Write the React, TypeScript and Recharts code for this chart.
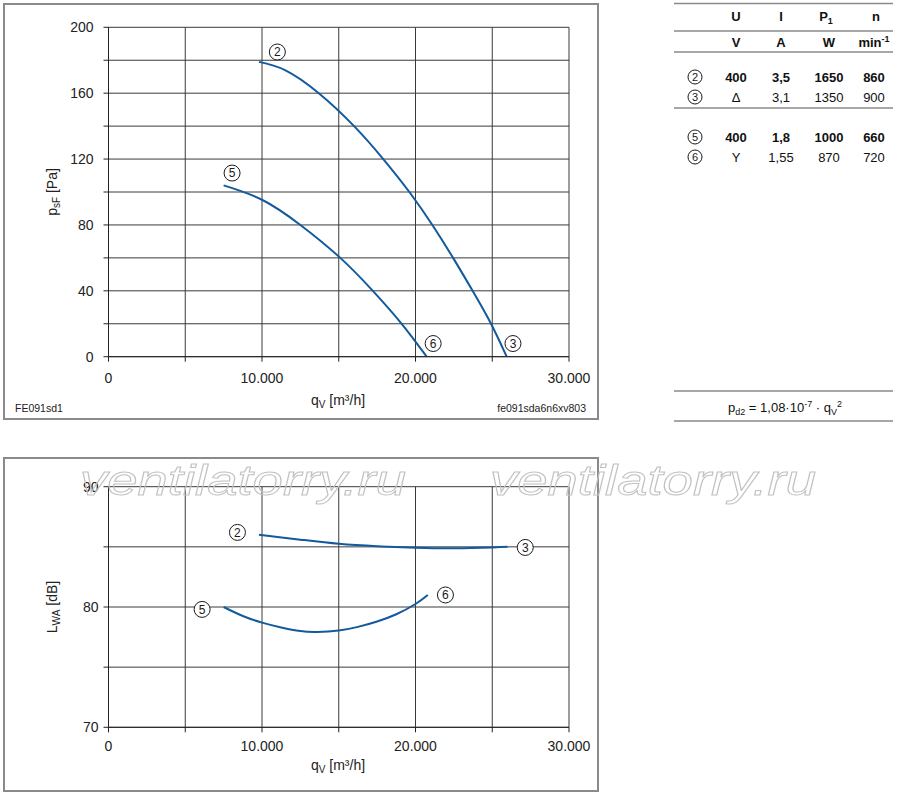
import { LineChart, Line, XAxis, YAxis, CartesianGrid, ReferenceDot } from "recharts";

const FONT = "'Liberation Sans', Arial, Helvetica, sans-serif";
const BLUE = "#135a9c";
const GRID = "#3a3a3a";

// axis ticks
const QV_TICKS = [0, 5000, 10000, 15000, 20000, 25000, 30000];
const PSF_TICKS = [0, 20, 40, 60, 80, 100, 120, 140, 160, 180, 200];
const LWA_TICKS = [70, 75, 80, 85, 90];

// static pressure, delta connection (2 -> 3)
const Q_DELTA = [9800, 11500, 13700, 16000, 17900, 19600, 21100, 22450, 23720, 24920, 25940];
const PSF_DELTA = [179, 174, 160, 140, 120, 100, 80, 60, 40, 20, 0];
// static pressure, star connection (5 -> 6)
const Q_STAR = [7500, 10000, 12500, 15100, 17220, 19100, 20730];
const PSF_STAR = [104, 95.3, 80, 60, 40, 20, 0];

// sound power, delta (2 -> 3)
const Q_DELTA_L = [9800, 12500, 15000, 17500, 20000, 22500, 25000, 26000];
const LWA_DELTA = [86.0, 85.6, 85.25, 85.05, 84.93, 84.88, 84.95, 85.0];
// sound power, star (5 -> 6)
const Q_STAR_L = [7500, 8750, 10000, 11250, 12500, 13600, 15000, 16250, 17500, 18750, 20000, 20800];
const LWA_STAR = [80.0, 79.25, 78.7, 78.3, 78.0, 77.93, 78.05, 78.35, 78.8, 79.4, 80.25, 81.0];

// circled operating point markers: label, qV, value
const PSF_MARKS: [string, number, number][] = [
    ["2", 11000, 185],
    ["5", 8050, 111.5],
    ["6", 21150, 8],
    ["3", 26350, 8],
];
const LWA_MARKS: [string, number, number][] = [
    ["2", 8400, 86.2],
    ["5", 6100, 79.8],
    ["6", 21950, 81.0],
    ["3", 27150, 84.95],
];

// data table on the right
const TABLE_COLS = [736, 781, 829, 874];
const TABLE_ROWS = [
    { id: "2", y: 77, bold: true, cells: ["400", "3,5", "1650", "860"] },
    { id: "3", y: 97, bold: false, cells: ["\u0394", "3,1", "1350", "900"] },
    { id: "5", y: 137, bold: true, cells: ["400", "1,8", "1000", "660"] },
    { id: "6", y: 157, bold: false, cells: ["Y", "1,55", "870", "720"] },
];

const zip = (q: number[], v: number[]) => q.map((x, i) => ({ q: x, v: v[i] }));

const fmtQ = (v: number) => (v % 10000 !== 0 ? "" : v === 0 ? "0" : `${v / 1000}.000`);

const circled = (n: string, r = 8, fs = 12) => (props: any) => {
    const { cx, cy } = props;
    return (
        <g>
            <circle cx={cx} cy={cy} r={r} fill="#fff" stroke="#1a1a1a" strokeWidth={1} />
            <text x={cx} y={cy + fs * 0.36} textAnchor="middle" fontSize={fs} fontFamily={FONT} fill="#1a1a1a">
                {n}
            </text>
        </g>
    );
};

const Marker = ({ n, x, y }: { n: string; x: number; y: number }) => {
    const c = circled(n, 7, 11);
    return c({ cx: x, cy: y });
};

const tickStyle = { fontSize: 14, fill: "#222", fontFamily: FONT };

function PressureChart() {
    return (
        <LineChart width={600} height={420} margin={{ top: 27.3, right: 31, bottom: 33.3, left: 48.5 }}>
            <CartesianGrid stroke={GRID} strokeWidth={1} />
            <XAxis
                type="number"
                dataKey="q"
                domain={[0, 30000]}
                ticks={QV_TICKS}
                interval={0}
                tickFormatter={fmtQ}
                tickSize={5}
                tickMargin={11.5}
                height={30}
                stroke="#222"
                tick={tickStyle}
                allowDataOverflow
            />
            <YAxis
                type="number"
                domain={[0, 200]}
                ticks={PSF_TICKS}
                interval={0}
                tickFormatter={(v: number) => (v % 40 === 0 ? String(v) : "")}
                tickSize={5}
                tickMargin={10}
                width={60}
                stroke="#222"
                tick={tickStyle}
            />
            <Line data={zip(Q_DELTA, PSF_DELTA)} dataKey="v" type="natural" stroke={BLUE} strokeWidth={2} dot={false} isAnimationActive={false} />
            <Line data={zip(Q_STAR, PSF_STAR)} dataKey="v" type="natural" stroke={BLUE} strokeWidth={2} dot={false} isAnimationActive={false} />
            {PSF_MARKS.map(([n, q, v]) => (
                <ReferenceDot key={n} x={q} y={v} r={8} shape={circled(n)} ifOverflow="visible" />
            ))}
        </LineChart>
    );
}

function SoundChart() {
    return (
        <LineChart width={600} height={320} margin={{ top: 31.7, right: 31, bottom: 17.7, left: 48.5 }}>
            <CartesianGrid stroke={GRID} strokeWidth={1} />
            <XAxis
                type="number"
                dataKey="q"
                domain={[0, 30000]}
                ticks={QV_TICKS}
                interval={0}
                tickFormatter={fmtQ}
                tickSize={5}
                tickMargin={8.5}
                height={30}
                stroke="#222"
                tick={tickStyle}
                allowDataOverflow
            />
            <YAxis
                type="number"
                domain={[70, 90]}
                ticks={LWA_TICKS}
                interval={0}
                tickFormatter={(v: number) => (v % 10 === 0 ? String(v) : "")}
                tickSize={5}
                tickMargin={5}
                width={60}
                stroke="#222"
                tick={tickStyle}
            />
            <Line data={zip(Q_DELTA_L, LWA_DELTA)} dataKey="v" type="natural" stroke={BLUE} strokeWidth={2} dot={false} isAnimationActive={false} />
            <Line data={zip(Q_STAR_L, LWA_STAR)} dataKey="v" type="natural" stroke={BLUE} strokeWidth={2} dot={false} isAnimationActive={false} />
            {LWA_MARKS.map(([n, q, v]) => (
                <ReferenceDot key={n} x={q} y={v} r={8} shape={circled(n)} ifOverflow="visible" />
            ))}
        </LineChart>
    );
}

export default function App() {
    return (
        <div style={{ position: "absolute", left: 0, top: 0, width: 900, height: 797, background: "#fff", fontFamily: FONT }}>
            {/* frames */}
            <div style={{ position: "absolute", left: 3, top: 3, width: 596, height: 417, border: "2px solid #8a8a8a", boxSizing: "border-box" }} />
            <div style={{ position: "absolute", left: 3, top: 457, width: 596, height: 335, border: "2px solid #8a8a8a", boxSizing: "border-box" }} />

            <div style={{ position: "absolute", left: 0, top: 0 }}>
                <PressureChart />
            </div>
            <div style={{ position: "absolute", left: 0, top: 455 }}>
                <SoundChart />
            </div>

            {/* texts, table, watermark */}
            <svg width={900} height={797} style={{ position: "absolute", left: 0, top: 0, pointerEvents: "none" }} fontFamily={FONT}>
                {/* axis titles, top chart */}
                <text x={57} y={192} transform="rotate(-90 57 192)" textAnchor="middle" fontSize={14} fill="#222">
                    p<tspan fontSize={10} dy={3}>sF</tspan>
                    <tspan dy={-3}> [Pa]</tspan>
                </text>
                <text x={338} y={405} textAnchor="middle" fontSize={14} fill="#222">
                    q<tspan fontSize={10} dy={3}>V</tspan>
                    <tspan dy={-3}> [m³/h]</tspan>
                </text>
                <text x={15} y={412} fontSize={10.5} fill="#222">FE091sd1</text>
                <text x={586} y={412} textAnchor="end" fontSize={10.5} fill="#222">fe091sda6n6xv803</text>

                {/* axis titles, bottom chart */}
                <text x={57} y={607} transform="rotate(-90 57 607)" textAnchor="middle" fontSize={14} fill="#222">
                    L<tspan fontSize={10} dy={3}>WA</tspan>
                    <tspan dy={-3}> [dB]</tspan>
                </text>
                <text x={338} y={770} textAnchor="middle" fontSize={14} fill="#222">
                    q<tspan fontSize={10} dy={3}>V</tspan>
                    <tspan dy={-3}> [m³/h]</tspan>
                </text>

                {/* table */}
                <g stroke="#8a8a8a" strokeWidth={1.5}>
                    <line x1={674} x2={893} y1={3.5} y2={3.5} />
                    <line x1={674} x2={893} y1={31} y2={31} />
                    <line x1={674} x2={893} y1={52} y2={52} />
                    <line x1={674} x2={893} y1={108} y2={108} />
                    <line x1={674} x2={893} y1={391} y2={391} />
                    <line x1={674} x2={893} y1={421} y2={421} />
                </g>
                <g fontSize={13} fontWeight="bold" fill="#111" textAnchor="middle">
                    <text x={TABLE_COLS[0]} y={21}>U</text>
                    <text x={TABLE_COLS[1]} y={21}>I</text>
                    <text x={TABLE_COLS[2] - 3} y={21}>
                        P<tspan fontSize={9} dy={3}>1</tspan>
                    </text>
                    <text x={TABLE_COLS[3] + 2} y={21}>n</text>
                    <text x={TABLE_COLS[0]} y={47}>V</text>
                    <text x={TABLE_COLS[1]} y={47}>A</text>
                    <text x={TABLE_COLS[2]} y={47}>W</text>
                    <text x={TABLE_COLS[3]} y={47}>
                        min<tspan fontSize={9} dy={-5}>-1</tspan>
                    </text>
                </g>
                {TABLE_ROWS.map((row) => (
                    <g key={row.id}>
                        <Marker n={row.id} x={695} y={row.y} />
                        {row.cells.map((c, i) => (
                            <text
                                key={i}
                                x={TABLE_COLS[i]}
                                y={row.y + 5}
                                textAnchor="middle"
                                fontSize={13}
                                fontWeight={row.bold ? "bold" : "normal"}
                                fill="#111"
                            >
                                {c}
                            </text>
                        ))}
                    </g>
                ))}

                {/* dynamic pressure formula */}
                <text x={785} y={412} textAnchor="middle" fontSize={13} fill="#111">
                    p<tspan fontSize={9} dy={3}>d2</tspan>
                    <tspan dy={-3}> = 1,08·10</tspan>
                    <tspan fontSize={9} dy={-5}>-7</tspan>
                    <tspan dy={5}> · q</tspan>
                    <tspan fontSize={9} dy={3}>V</tspan>
                    <tspan fontSize={9} dy={-8}>2</tspan>
                </text>

                {/* watermark */}
                <g fill="none" stroke="#c2c2c2" strokeWidth={1} fontSize={43} fontStyle="italic">
                    <text x={80} y={495} textLength={326} lengthAdjust="spacingAndGlyphs">ventilatorry.ru</text>
                    <text x={490} y={495} textLength={326} lengthAdjust="spacingAndGlyphs">ventilatorry.ru</text>
                </g>
            </svg>
        </div>
    );
}
